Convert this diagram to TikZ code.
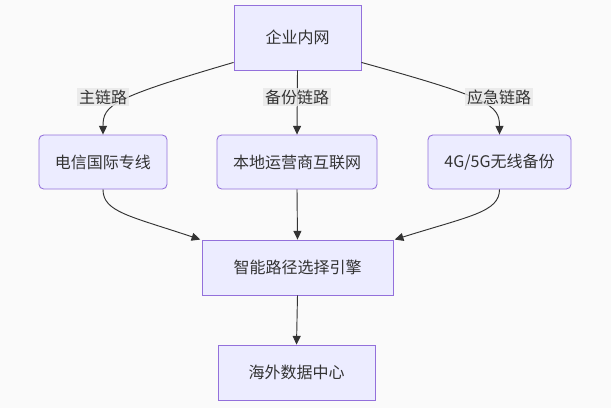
\documentclass[tikz,border=0pt]{standalone}
\usepackage{fontspec}
\setmainfont{Noto Sans CJK SC}
\usetikzlibrary{arrows.meta}

\definecolor{boxfill}{RGB}{236,236,255}
\definecolor{boxline}{RGB}{147,112,219}
\definecolor{ink}{RGB}{51,51,51}
\definecolor{paper}{RGB}{250,250,250}
\definecolor{lblfill}{RGB}{232,232,232}

\tikzset{
  box/.style={draw=boxline,fill=boxfill,line width=0.65pt,text=ink,font=\fontsize{12}{14}\selectfont,inner sep=0pt},
  rbox/.style={box,rounded corners=3.5pt},
  lbl/.style={fill=lblfill,fill opacity=0.8,text opacity=1,text=ink,font=\fontsize{12}{14}\selectfont,inner sep=1.5pt},
  link/.style={draw=ink,line width=0.7pt,-{Triangle[length=6.5pt,width=6pt]}}
}

\begin{document}
\begin{tikzpicture}[x=0.75pt,y=-0.75pt]
            \fill[paper] (0,0) rectangle (611,408);
            \useasboundingbox (0,0) rectangle (611,408);
            % nodes
            \node[box,minimum width=95.25pt,minimum height=48.75pt] (lan) at (297.5,37.5) {企业内网};
            \node[rbox,minimum width=96pt,minimum height=40.5pt] (telecom) at (103,162) {电信国际专线};
            \node[rbox,minimum width=120pt,minimum height=40.5pt] (isp) at (297,162) {本地运营商互联网};
            \node[rbox,minimum width=107.25pt,minimum height=40.5pt] (wireless) at (499.5,162) {4G/5G无线备份};
            \node[box,minimum width=143.25pt,minimum height=41.25pt] (engine) at (297.5,267.5) {智能路径选择引擎};
            \node[box,minimum width=117.75pt,minimum height=41.25pt] (dc) at (296.5,372.5) {海外数据中心};
            % links
            \draw[link] ([yshift=6pt]lan.south west) .. controls (112,98) and (103,105) .. (telecom.north);
            \draw[link] (lan.south) -- (isp.north);
            \draw[link] ([yshift=6pt]lan.south east) .. controls (490,98) and (499.5,105) .. (wireless.north);
            \draw[link] (telecom.south) .. controls (103,212) and (130,216) .. ([xshift=-1pt]engine.north west);
            \draw[link] (isp.south) -- (engine.north);
            \draw[link] (wireless.south) .. controls (499.5,212) and (470,216) .. ([xshift=1pt]engine.north east);
            \draw[link] (engine.south) -- (dc.north);
            % labels
            \node[lbl] (mainlbl) at (103,97) {主链路};
            \node[lbl] (backuplbl) at (297,97) {备份链路};
            \node[lbl] (urgentlbl) at (499,97) {应急链路};
        \end{tikzpicture}
\end{document}
